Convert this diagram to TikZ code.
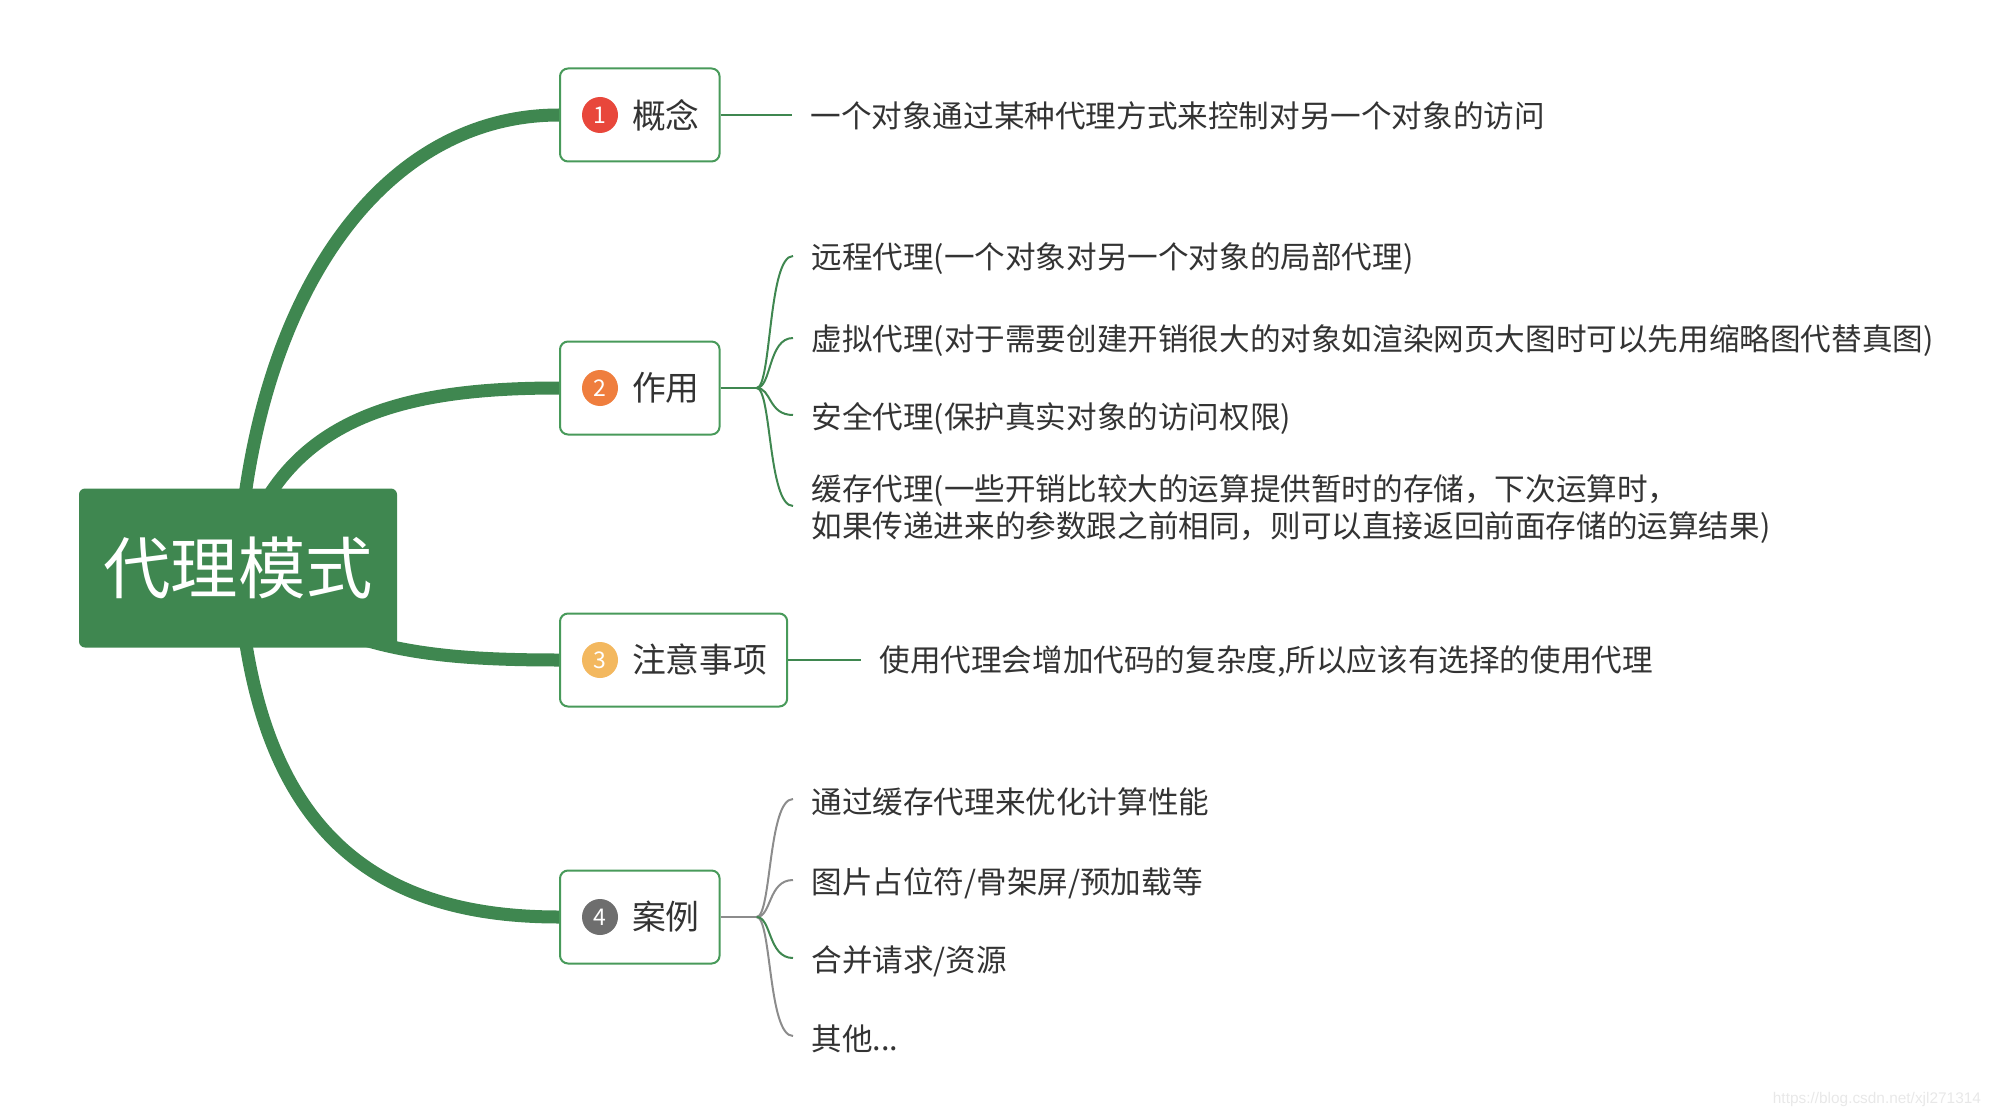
\documentclass[tikz,border=0pt]{standalone}
\usepackage{fontspec}
\usepackage{xcolor}
\usepackage{tikz}
\usetikzlibrary{calc, backgrounds}

\newfontfamily\cjk{Noto Sans CJK SC}
\newfontfamily\urlfont{Liberation Sans}

\definecolor{mindgreen}{HTML}{3F8750}
\definecolor{boxgreen}{HTML}{489A5A}
\definecolor{textgray}{HTML}{333333}
\definecolor{twiggray}{HTML}{8C8C8C}
\definecolor{dotred}{HTML}{E8473B}
\definecolor{dotorange}{HTML}{EF7E3E}
\definecolor{dotyellow}{HTML}{F3B85F}
\definecolor{dotgray}{HTML}{6E6E6E}

\begin{document}
\begin{tikzpicture}[x=0.5pt, y=-0.5pt, font=\cjk,
  rootbox/.style={fill=mindgreen, rounded corners=3pt, text=white,
    minimum width=159pt, minimum height=79.5pt, inner sep=0pt,
    font=\cjk\fontsize{33.7}{40}\selectfont},
  topicbox/.style={draw=boxgreen, line width=1pt, fill=white, rounded corners=4pt,
    anchor=west, minimum height=46.5pt, inner xsep=10pt, inner ysep=0pt, text=textgray,
    font=\cjk\fontsize{16.9}{20}\selectfont},
  numdot/.style={circle, fill=#1, text=white, minimum size=18pt, inner sep=0pt,
    font=\cjk\fontsize{11.5}{13}\selectfont},
  leaf/.style={anchor=west, inner xsep=9pt, inner ysep=2pt, align=left, text=textgray,
    font=\cjk\fontsize{15.3}{18.5}\selectfont},
  branch/.style={draw=mindgreen, line width=6.5pt},
  twig/.style={draw=mindgreen, line width=1pt},
  greytwig/.style={draw=twiggray, line width=1pt}]

\useasboundingbox (0,0) rectangle (1996,1118);

%% ─── Central topic ──────────────────────────────────────────
\node[rootbox] (root) at (238,568) {代理模式};

%% ─── Main topics ────────────────────────────────────────────
\node[topicbox] (gn) at (559,115) {\hspace*{26pt}概念};
\node[numdot=dotred] (gndot) at ($(gn.west)+(41,0)$) {1};

\node[topicbox] (zy) at (559,388) {\hspace*{26pt}作用};
\node[numdot=dotorange] (zydot) at ($(zy.west)+(41,0)$) {2};

\node[topicbox] (zysx) at (559,660) {\hspace*{26pt}注意事项};
\node[numdot=dotyellow] (zysxdot) at ($(zysx.west)+(41,0)$) {3};

\node[topicbox] (al) at (559,917) {\hspace*{26pt}案例};
\node[numdot=dotgray] (aldot) at ($(al.west)+(41,0)$) {4};

%% Branches (behind the central topic)
\begin{scope}[on background layer]
  \draw[branch] (root.center) .. controls +(15,-268) and +(-180,0) .. (gn.west);
  \draw[branch] (root.center) .. controls +(40,-150) and +(-160,0) .. (zy.west);
  \draw[branch] (root.center) .. controls +(90,80) and +(-140,0) .. (zysx.west);
  \draw[branch] (root.center) .. controls +(15,268) and +(-180,0) .. (al.west);
\end{scope}

%% ─── 概念 ───────────────────────────────────────────────────
\node[leaf] (gnleaf) at (792,116) {一个对象通过某种代理方式来控制对另一个对象的访问};
\draw[twig] (gn.east) -- (gn.east -| gnleaf.west);

%% ─── 作用 ───────────────────────────────────────────────────
\coordinate (zyfork) at ($(zy.east)+(36,0)$);
\node[leaf] (zy1) at (793,259) {远程代理(一个对象对另一个对象的局部代理)};
\node[leaf] (zy2) at (793,341) {虚拟代理(对于需要创建开销很大的对象如渲染网页大图时可以先用缩略图代替真图)};
\node[leaf] (zy3) at (793,418) {安全代理(保护真实对象的访问权限)};
\node[leaf] (zy4) at (793,509)
  {缓存代理(一些开销比较大的运算提供暂时的存储，下次运算时，\\
   如果传递进来的参数跟之前相同，则可以直接返回前面存储的运算结果)};
\draw[twig] (zy.east) -- (zyfork);
\foreach \n in {zy1,zy2,zy3,zy4}
  \draw[twig] (zyfork) .. controls +(15,0) and +(-25,0) .. ($(\n.west)+(0,-3)$);

%% ─── 注意事项 ───────────────────────────────────────────────
\node[leaf] (zysxleaf) at (861,661) {使用代理会增加代码的复杂度,所以应该有选择的使用代理};
\draw[twig] (zysx.east) -- (zysx.east -| zysxleaf.west);

%% ─── 案例 ───────────────────────────────────────────────────
\coordinate (alfork) at ($(al.east)+(36,0)$);
\node[leaf] (al1) at (793,802) {通过缓存代理来优化计算性能};
\node[leaf] (al2) at (793,883) {图片占位符/骨架屏/预加载等};
\node[leaf] (al3) at (793,961) {合并请求/资源};
\node[leaf] (al4) at (793,1039) {其他...};
\draw[greytwig] (al.east) -- (alfork);
\foreach \n in {al1,al2,al4}
  \draw[greytwig] (alfork) .. controls +(15,0) and +(-25,0) .. ($(\n.west)+(0,-3)$);
\draw[twig] (alfork) .. controls +(15,0) and +(-25,0) .. ($(al3.west)+(0,-3)$);

%% Watermark
\node[font=\urlfont\fontsize{7.7}{9}\selectfont, text=black!9, anchor=east]
  (mark) at (1988,1100) {https://blog.csdn.net/xjl271314};

\end{tikzpicture}
\end{document}
